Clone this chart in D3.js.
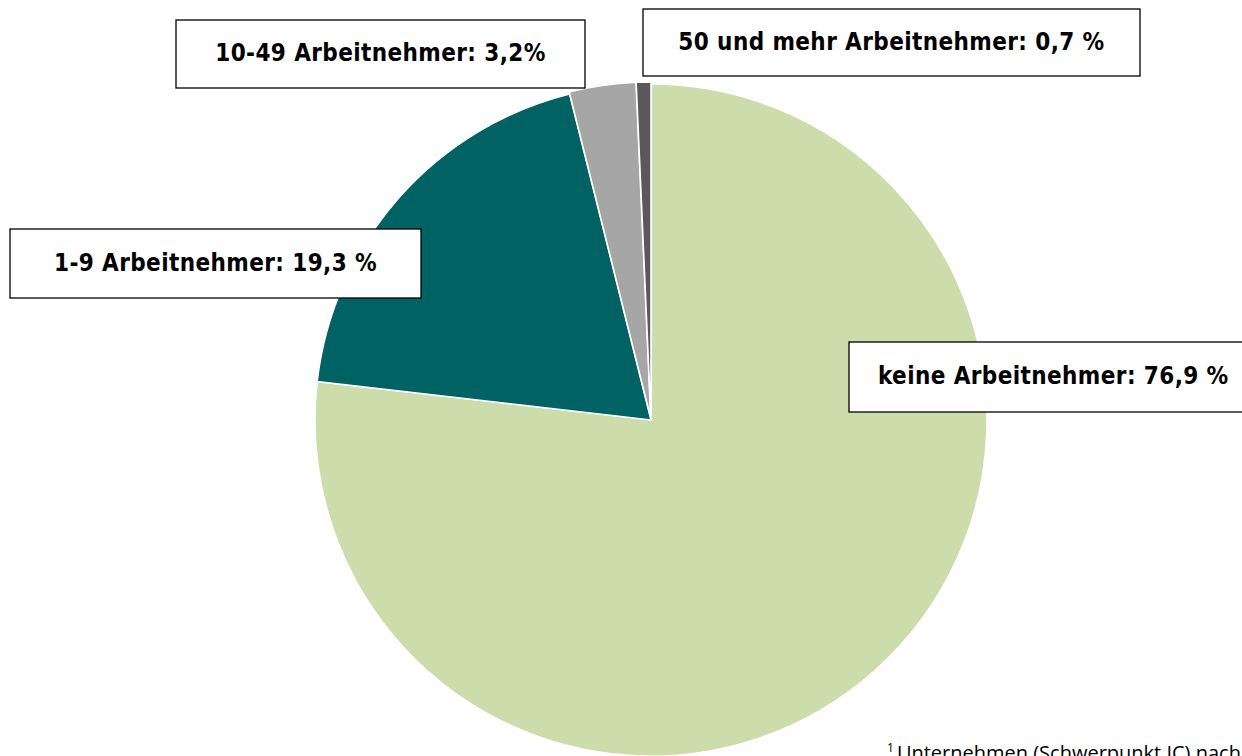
<!DOCTYPE html>
<html>
<head>
<meta charset="utf-8">
<script src="https://cdn.jsdelivr.net/npm/d3@7"></script>
<style>
  html, body { margin: 0; padding: 0; background: #fff; overflow: hidden; }
  svg { display: block; }
</style>
</head>
<body>
<svg id="chart"></svg>
<script>
// Anteile der Unternehmen nach Anzahl der Arbeitnehmer
const categories = ['keine Arbeitnehmer', '1-9 Arbeitnehmer', '10-49 Arbeitnehmer', '50 und mehr Arbeitnehmer'];
const shares = [76.9, 19.3, 3.2, 0.7];
const labels = ['keine Arbeitnehmer: 76,9 %', '1-9 Arbeitnehmer: 19,3 %', '10-49 Arbeitnehmer: 3,2%', '50 und mehr Arbeitnehmer: 0,7 %'];
const colors = ['#ccdcaa', '#006262', '#a6a6a6', '#595959'];
const footnote = 'Unternehmen (Schwerpunkt IC) nach';

const width = 1242, height = 756;
const cx = 651, cy = 420, radius = 336;

// label boxes: x, y, w, h
const boxes = [
    {x: 849, y: 342, w: 400, h: 70},
    {x: 10, y: 229, w: 411, h: 69},
    {x: 176, y: 20, w: 409, h: 68},
    {x: 643, y: 9, w: 497, h: 67}
];

const svg = d3.select('#chart')
    .attr('width', width)
    .attr('height', height);

const data = categories.map((c, i) => ({key: c, value: shares[i], label: labels[i], color: colors[i]}));

const pie = d3.pie()
    .value(d => d.value)
    .sort(null);

const arc = d3.arc()
    .innerRadius(0)
    .outerRadius(radius);

const arcs = pie(data);

const g = svg.append('g')
    .attr('transform', `translate(${cx}, ${cy})`);

g.selectAll('path')
    .data(arcs)
    .join('path')
    .attr('d', arc)
    .attr('fill', d => d.data.color)
    .attr('stroke', '#fff')
    .attr('stroke-width', 1.5)
    .attr('transform', (d, i) => {
        // the two small slices sit slightly out of the pie
        if (i < 2) return null;
        const a = (d.startAngle + d.endAngle) / 2;
        return `translate(${2 * Math.sin(a)}, ${-2 * Math.cos(a)})`;
    });

const lbl = svg.selectAll('g.lbl')
    .data(data)
    .join('g')
    .attr('class', 'lbl')
    .attr('transform', (d, i) => `translate(${boxes[i].x}, ${boxes[i].y})`);

lbl.append('rect')
    .attr('width', (d, i) => boxes[i].w)
    .attr('height', (d, i) => boxes[i].h)
    .attr('fill', '#fff')
    .attr('stroke', '#000')
    .attr('stroke-width', 1.3);

lbl.append('text')
    .attr('x', (d, i) => i === 0 ? 29 : boxes[i].w / 2)
    .attr('y', (d, i) => boxes[i].h / 2)
    .attr('dy', '0.3em')
    .attr('text-anchor', (d, i) => i === 0 ? 'start' : 'middle')
    .style('font-family', '"DejaVu Sans Condensed", "DejaVu Sans", sans-serif')
    .style('font-stretch', 'condensed')
    .style('font-weight', 'bold')
    .style('font-size', '24px')
    .style('letter-spacing', '0.4px')
    .style('fill', '#000')
    .text(d => d.label);

const fn = svg.append('text')
    .attr('x', 887)
    .attr('y', 760)
    .style('font-family', '"Open Sans", sans-serif')
    .style('font-size', '20px')
    .style('fill', '#000');
fn.append('tspan')
    .attr('font-size', '12px')
    .attr('dy', '-8')
    .text('1');
fn.append('tspan')
    .attr('dy', '8')
    .attr('dx', '3')
    .text(footnote);
</script>
</body>
</html>
